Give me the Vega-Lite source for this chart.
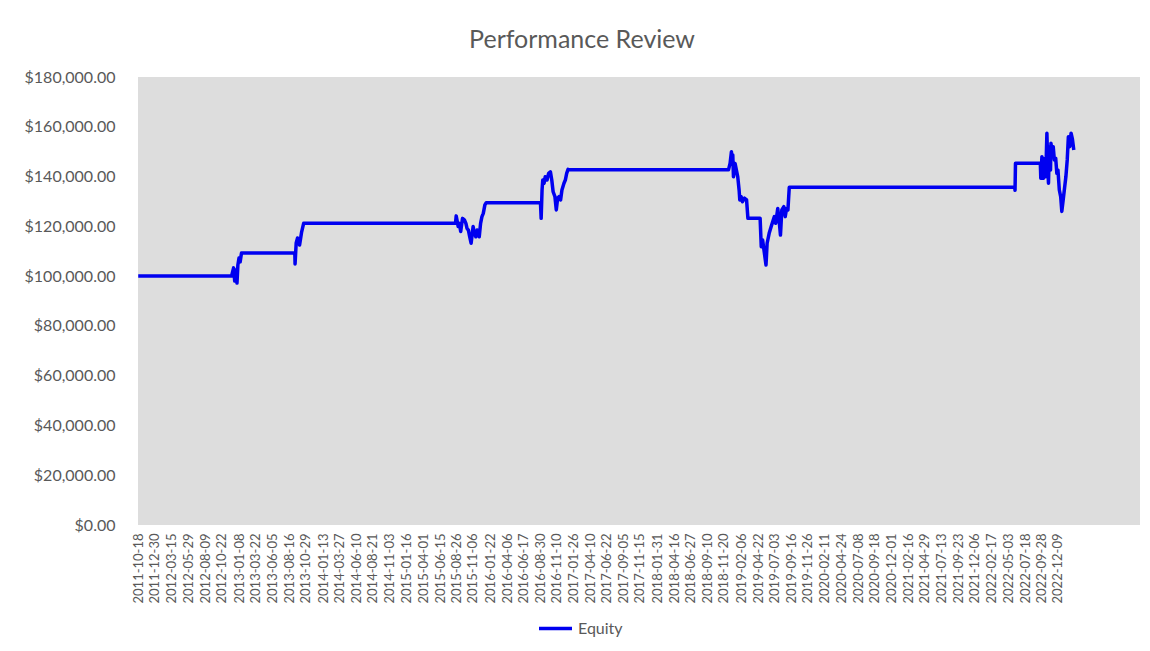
{
  "$schema": "https://vega.github.io/schema/vega-lite/v6.json",
  "width": 1002,
  "height": 448,
  "autosize": "none",
  "padding": {"left": 138, "top": 77, "right": 10, "bottom": 126},
  "background": "white",
  "title": {"text": "Performance Review", "font": "Lato", "fontSize": 25, "fontWeight": "normal", "color": "#595959", "offset": 16, "anchor": "middle", "frame": "bounds"},
  "data": {"values": [
    {"date": "2011-10-18", "equity": 100000},
    {"date": "2012-12-04", "equity": 100000},
    {"date": "2012-12-13", "equity": 103300},
    {"date": "2012-12-18", "equity": 98000},
    {"date": "2012-12-23", "equity": 102500},
    {"date": "2012-12-28", "equity": 97200},
    {"date": "2013-01-01", "equity": 104500},
    {"date": "2013-01-06", "equity": 107300},
    {"date": "2013-01-11", "equity": 105700},
    {"date": "2013-01-17", "equity": 109300},
    {"date": "2013-09-10", "equity": 109300},
    {"date": "2013-09-11", "equity": 104900},
    {"date": "2013-09-16", "equity": 113300},
    {"date": "2013-09-22", "equity": 115300},
    {"date": "2013-10-01", "equity": 112500},
    {"date": "2013-10-10", "equity": 117700},
    {"date": "2013-10-19", "equity": 121200},
    {"date": "2015-08-22", "equity": 121200},
    {"date": "2015-08-25", "equity": 124200},
    {"date": "2015-09-03", "equity": 119900},
    {"date": "2015-09-08", "equity": 121200},
    {"date": "2015-09-14", "equity": 117900},
    {"date": "2015-09-22", "equity": 123200},
    {"date": "2015-10-01", "equity": 122500},
    {"date": "2015-10-07", "equity": 121200},
    {"date": "2015-10-12", "equity": 119200},
    {"date": "2015-10-18", "equity": 118500},
    {"date": "2015-10-24", "equity": 115800},
    {"date": "2015-10-30", "equity": 113200},
    {"date": "2015-11-08", "equity": 119900},
    {"date": "2015-11-14", "equity": 117200},
    {"date": "2015-11-20", "equity": 115800},
    {"date": "2015-11-26", "equity": 118500},
    {"date": "2015-12-05", "equity": 115800},
    {"date": "2015-12-11", "equity": 121200},
    {"date": "2015-12-17", "equity": 123900},
    {"date": "2015-12-23", "equity": 125200},
    {"date": "2015-12-30", "equity": 128600},
    {"date": "2016-01-05", "equity": 129500},
    {"date": "2016-09-01", "equity": 129500},
    {"date": "2016-09-04", "equity": 123200},
    {"date": "2016-09-08", "equity": 134600},
    {"date": "2016-09-11", "equity": 138600},
    {"date": "2016-09-17", "equity": 137300},
    {"date": "2016-09-22", "equity": 139900},
    {"date": "2016-09-30", "equity": 138600},
    {"date": "2016-10-07", "equity": 141300},
    {"date": "2016-10-15", "equity": 141900},
    {"date": "2016-10-21", "equity": 138600},
    {"date": "2016-10-27", "equity": 133900},
    {"date": "2016-11-04", "equity": 131900},
    {"date": "2016-11-10", "equity": 126600},
    {"date": "2016-11-16", "equity": 131300},
    {"date": "2016-11-22", "equity": 131900},
    {"date": "2016-11-29", "equity": 130600},
    {"date": "2016-12-05", "equity": 134600},
    {"date": "2016-12-14", "equity": 137300},
    {"date": "2016-12-20", "equity": 138600},
    {"date": "2016-12-26", "equity": 141300},
    {"date": "2017-01-01", "equity": 142900},
    {"date": "2017-01-08", "equity": 142700},
    {"date": "2018-12-12", "equity": 142700},
    {"date": "2018-12-19", "equity": 145300},
    {"date": "2018-12-25", "equity": 150000},
    {"date": "2018-12-28", "equity": 146700},
    {"date": "2018-12-31", "equity": 148700},
    {"date": "2019-01-03", "equity": 139900},
    {"date": "2019-01-10", "equity": 145300},
    {"date": "2019-01-16", "equity": 142600},
    {"date": "2019-01-22", "equity": 139900},
    {"date": "2019-01-28", "equity": 134600},
    {"date": "2019-01-31", "equity": 130600},
    {"date": "2019-02-06", "equity": 131900},
    {"date": "2019-02-12", "equity": 129900},
    {"date": "2019-02-21", "equity": 131300},
    {"date": "2019-03-02", "equity": 130600},
    {"date": "2019-03-08", "equity": 123200},
    {"date": "2019-05-01", "equity": 123200},
    {"date": "2019-05-06", "equity": 111800},
    {"date": "2019-05-12", "equity": 114500},
    {"date": "2019-05-18", "equity": 110500},
    {"date": "2019-05-27", "equity": 104500},
    {"date": "2019-06-01", "equity": 113200},
    {"date": "2019-06-10", "equity": 117200},
    {"date": "2019-06-19", "equity": 119900},
    {"date": "2019-06-28", "equity": 122500},
    {"date": "2019-07-03", "equity": 123900},
    {"date": "2019-07-09", "equity": 121200},
    {"date": "2019-07-18", "equity": 127200},
    {"date": "2019-07-24", "equity": 122500},
    {"date": "2019-07-30", "equity": 116500},
    {"date": "2019-08-05", "equity": 126600},
    {"date": "2019-08-14", "equity": 127900},
    {"date": "2019-08-20", "equity": 123900},
    {"date": "2019-08-26", "equity": 127200},
    {"date": "2019-09-01", "equity": 126600},
    {"date": "2019-09-07", "equity": 135700},
    {"date": "2022-06-01", "equity": 135700},
    {"date": "2022-06-02", "equity": 134500},
    {"date": "2022-06-04", "equity": 145300},
    {"date": "2022-09-22", "equity": 145300},
    {"date": "2022-09-24", "equity": 139300},
    {"date": "2022-09-29", "equity": 148000},
    {"date": "2022-10-05", "equity": 139300},
    {"date": "2022-10-11", "equity": 147300},
    {"date": "2022-10-16", "equity": 139900},
    {"date": "2022-10-21", "equity": 157400},
    {"date": "2022-10-25", "equity": 144000},
    {"date": "2022-10-28", "equity": 137300},
    {"date": "2022-11-01", "equity": 152000},
    {"date": "2022-11-06", "equity": 142600},
    {"date": "2022-11-08", "equity": 153400},
    {"date": "2022-11-14", "equity": 149300},
    {"date": "2022-11-18", "equity": 152000},
    {"date": "2022-11-23", "equity": 146700},
    {"date": "2022-11-29", "equity": 147300},
    {"date": "2022-12-04", "equity": 141300},
    {"date": "2022-12-09", "equity": 142600},
    {"date": "2022-12-15", "equity": 134600},
    {"date": "2022-12-21", "equity": 131900},
    {"date": "2022-12-26", "equity": 126000},
    {"date": "2023-01-01", "equity": 130600},
    {"date": "2023-01-07", "equity": 135300},
    {"date": "2023-01-13", "equity": 139900},
    {"date": "2023-01-19", "equity": 146700},
    {"date": "2023-01-24", "equity": 156000},
    {"date": "2023-01-30", "equity": 152000},
    {"date": "2023-02-05", "equity": 157400},
    {"date": "2023-02-11", "equity": 155000},
    {"date": "2023-02-17", "equity": 150700}
  ]},
  "mark": {"type": "line", "strokeWidth": 3.5, "strokeJoin": "round"},
  "encoding": {
    "x": {
      "field": "date", "type": "temporal",
      "scale": {"type": "utc", "domain": [{"year": 2011, "month": 10, "date": 17, "utc": true}, {"year": 2023, "month": 12, "date": 7, "utc": true}]},
      "axis": {
        "title": null, "labelExpr": "utcFormat(datum.value, '%Y-%m-%d')", "labelAngle": -90,
        "labelFont": "Lato", "labelFontSize": 13, "labelColor": "#595959",
        "labelPadding": 8, "ticks": false, "domain": false, "grid": false,
        "labelOverlap": false, "labelFlush": false, "labelBound": false,
        "values": [
          {"year": 2011, "month": 10, "date": 18, "utc": true},
          {"year": 2011, "month": 12, "date": 30, "utc": true},
          {"year": 2012, "month": 3, "date": 15, "utc": true},
          {"year": 2012, "month": 5, "date": 29, "utc": true},
          {"year": 2012, "month": 8, "date": 9, "utc": true},
          {"year": 2012, "month": 10, "date": 22, "utc": true},
          {"year": 2013, "month": 1, "date": 8, "utc": true},
          {"year": 2013, "month": 3, "date": 22, "utc": true},
          {"year": 2013, "month": 6, "date": 5, "utc": true},
          {"year": 2013, "month": 8, "date": 16, "utc": true},
          {"year": 2013, "month": 10, "date": 29, "utc": true},
          {"year": 2014, "month": 1, "date": 13, "utc": true},
          {"year": 2014, "month": 3, "date": 27, "utc": true},
          {"year": 2014, "month": 6, "date": 10, "utc": true},
          {"year": 2014, "month": 8, "date": 21, "utc": true},
          {"year": 2014, "month": 11, "date": 3, "utc": true},
          {"year": 2015, "month": 1, "date": 16, "utc": true},
          {"year": 2015, "month": 4, "date": 1, "utc": true},
          {"year": 2015, "month": 6, "date": 15, "utc": true},
          {"year": 2015, "month": 8, "date": 26, "utc": true},
          {"year": 2015, "month": 11, "date": 6, "utc": true},
          {"year": 2016, "month": 1, "date": 22, "utc": true},
          {"year": 2016, "month": 4, "date": 6, "utc": true},
          {"year": 2016, "month": 6, "date": 17, "utc": true},
          {"year": 2016, "month": 8, "date": 30, "utc": true},
          {"year": 2016, "month": 11, "date": 10, "utc": true},
          {"year": 2017, "month": 1, "date": 26, "utc": true},
          {"year": 2017, "month": 4, "date": 10, "utc": true},
          {"year": 2017, "month": 6, "date": 22, "utc": true},
          {"year": 2017, "month": 9, "date": 5, "utc": true},
          {"year": 2017, "month": 11, "date": 15, "utc": true},
          {"year": 2018, "month": 1, "date": 31, "utc": true},
          {"year": 2018, "month": 4, "date": 16, "utc": true},
          {"year": 2018, "month": 6, "date": 27, "utc": true},
          {"year": 2018, "month": 9, "date": 10, "utc": true},
          {"year": 2018, "month": 11, "date": 20, "utc": true},
          {"year": 2019, "month": 2, "date": 6, "utc": true},
          {"year": 2019, "month": 4, "date": 22, "utc": true},
          {"year": 2019, "month": 7, "date": 3, "utc": true},
          {"year": 2019, "month": 9, "date": 16, "utc": true},
          {"year": 2019, "month": 11, "date": 26, "utc": true},
          {"year": 2020, "month": 2, "date": 11, "utc": true},
          {"year": 2020, "month": 4, "date": 24, "utc": true},
          {"year": 2020, "month": 7, "date": 8, "utc": true},
          {"year": 2020, "month": 9, "date": 18, "utc": true},
          {"year": 2020, "month": 12, "date": 1, "utc": true},
          {"year": 2021, "month": 2, "date": 16, "utc": true},
          {"year": 2021, "month": 4, "date": 29, "utc": true},
          {"year": 2021, "month": 7, "date": 13, "utc": true},
          {"year": 2021, "month": 9, "date": 23, "utc": true},
          {"year": 2021, "month": 12, "date": 6, "utc": true},
          {"year": 2022, "month": 2, "date": 17, "utc": true},
          {"year": 2022, "month": 5, "date": 3, "utc": true},
          {"year": 2022, "month": 7, "date": 18, "utc": true},
          {"year": 2022, "month": 9, "date": 28, "utc": true},
          {"year": 2022, "month": 12, "date": 9, "utc": true}
        ]
      }
    },
    "y": {
      "field": "equity", "type": "quantitative",
      "scale": {"domain": [0, 180000], "nice": false},
      "axis": {
        "title": null, "format": "$,.2f", "values": [0, 20000, 40000, 60000, 80000, 100000, 120000, 140000, 160000, 180000],
        "labelFont": "Lato", "labelFontSize": 16, "labelColor": "#595959", "labelPadding": 23,
        "ticks": false, "domain": false, "grid": false
      }
    },
    "color": {
      "datum": "Equity", "type": "nominal",
      "scale": {"range": ["#0000f0"]},
      "legend": {
        "title": null, "orient": "none", "legendX": 399, "legendY": 533,
        "symbolType": "stroke", "symbolSize": 1089, "symbolStrokeWidth": 3.5,
        "labelFont": "Lato", "labelFontSize": 16, "labelColor": "#595959", "labelOffset": 4
      }
    }
  },
  "config": {"view": {"fill": "#dddddd", "stroke": null}}
}
